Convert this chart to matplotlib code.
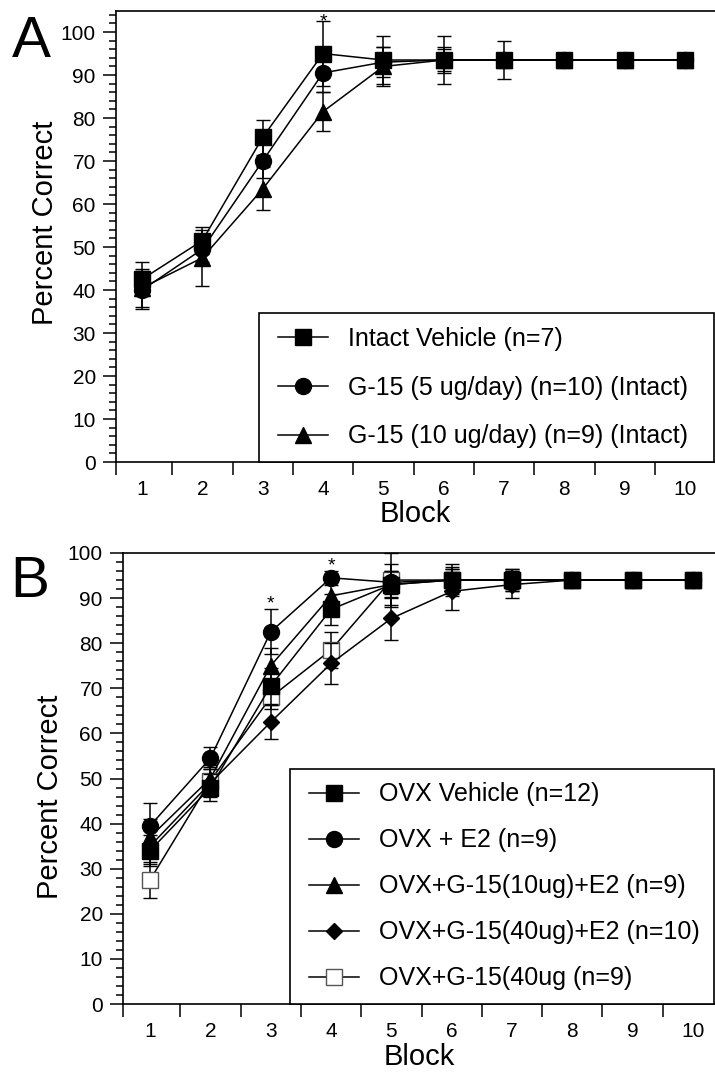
import numpy as np
import matplotlib
matplotlib.use("Agg")
import matplotlib.pyplot as plt
from matplotlib.lines import Line2D
from matplotlib.path import Path
from matplotlib.ticker import MultipleLocator, FixedLocator, NullFormatter, FixedFormatter

plt.rcParams['font.family'] = ['Liberation Sans', 'DejaVu Sans']

# ---------------- data ----------------
blocks = [1, 2, 3, 4, 5, 6, 7, 8, 9, 10]
block_labels = ['1', '2', '3', '4', '5', '6', '7', '8', '9', '10']

# Panel A (intact)
a_labels = ['Intact Vehicle (n=7)', 'G-15 (5 ug/day) (n=10) (Intact)', 'G-15 (10 ug/day) (n=9) (Intact)']
a_vehicle = [42.5, 51.5, 75.5, 95.0, 93.5, 93.5, 93.5, 93.5, 93.5, 93.5]
a_vehicle_err = [4.0, 3.2, 4.0, 7.5, 5.5, 5.5, 4.5, 0, 0, 0]
a_g15_5 = [40.0, 49.5, 70.0, 90.5, 93.0, 93.5, 93.5, 93.5, 93.5, 93.5]
a_g15_5_err = [4.5, 3.0, 4.0, 4.5, 3.5, 2.5, 0, 0, 0, 0]
a_g15_10 = [40.5, 47.5, 63.5, 81.5, 92.0, 93.5, 93.5, 93.5, 93.5, 93.5]
a_g15_10_err = [4.5, 6.5, 5.0, 4.5, 4.5, 3.0, 0, 0, 0, 0]
a_star_blocks = [4]
a_star_y = [104.0]

# Panel B (OVX)
b_labels = ['OVX Vehicle (n=12)', 'OVX + E2 (n=9)', 'OVX+G-15(10ug)+E2 (n=9)',
            'OVX+G-15(40ug)+E2 (n=10)', 'OVX+G-15(40ug (n=9)']
b_vehicle = [34.0, 48.0, 70.5, 87.5, 93.0, 94.0, 94.0, 94.0, 94.0, 94.0]
b_vehicle_err = [3.5, 3.0, 4.0, 3.5, 4.5, 3.0, 2.5, 0, 0, 0]
b_e2 = [39.5, 54.5, 82.5, 94.5, 93.5, 94.0, 94.0, 94.0, 94.0, 94.0]
b_e2_err = [5.0, 2.5, 5.0, 1.5, 2.5, 2.5, 1.5, 0, 0, 0]
b_g10_e2 = [37.0, 50.0, 75.0, 90.5, 93.0, 94.0, 94.0, 94.0, 94.0, 94.0]
b_g10_e2_err = [4.0, 3.0, 4.0, 4.5, 3.0, 2.5, 2.0, 0, 0, 0]
b_g40_e2 = [35.0, 49.0, 62.5, 75.5, 85.5, 91.5, 93.0, 94.0, 94.0, 94.0]
b_g40_e2_err = [4.0, 3.0, 3.8, 4.6, 4.7, 4.2, 3.0, 0, 0, 0]
b_g40 = [27.5, 49.5, 68.0, 78.5, 94.0, 94.0, 94.0, 94.0, 94.0, 94.0]
b_g40_err = [4.0, 3.0, 2.5, 4.0, 6.0, 3.5, 2.5, 0, 0, 0]
b_star_blocks = [3, 4]
b_star_y = [90.2, 98.7]

# ---------------- figure ----------------
W, H = 715, 1077
fig = plt.figure(figsize=(W / 100, H / 100), dpi=100)
fig.patch.set_facecolor('white')


def px_axes(l, t, r, b):
    return fig.add_axes([l / W, 1 - b / H, (r - l) / W, (b - t) / H])


axA = px_axes(116, 11, 715, 462)
axB = px_axes(123, 553, 715, 1004)

LW = 1.1
MS = 11.5
CAP = 5
TICKFS = 15


class HPadBox:
    """Square legend frame with extra horizontal padding (in pixels)."""
    def __init__(self, left, right):
        self.left = left
        self.right = right

    def __call__(self, x0, y0, width, height, mutation_size):
        x1 = x0 - self.left
        x2 = x0 + width + self.right
        y1, y2 = y0, y0 + height
        return Path([(x1, y1), (x2, y1), (x2, y2), (x1, y2), (x1, y1)], closed=True)


def style_axes(ax, xlim, ylim):
    ax.set_xlim(*xlim)
    ax.set_ylim(*ylim)
    ax.spines['right'].set_visible(False)
    for s in ['top', 'left', 'bottom']:
        ax.spines[s].set_linewidth(1.2)
    ax.yaxis.set_major_locator(MultipleLocator(10))
    ax.yaxis.set_minor_locator(MultipleLocator(2))
    ax.tick_params(axis='y', which='major', direction='out', length=9.5, width=1.1,
                   labelsize=TICKFS, pad=5)
    ax.tick_params(axis='y', which='minor', direction='out', length=5, width=1.1)
    ax.tick_params(axis='y', right=False)
    ax.xaxis.set_major_locator(FixedLocator([xlim[0]] + [b + 0.5 for b in blocks[:-1]]))
    ax.xaxis.set_major_formatter(NullFormatter())
    ax.xaxis.set_minor_locator(FixedLocator(blocks))
    ax.xaxis.set_minor_formatter(FixedFormatter(block_labels))
    ax.tick_params(axis='x', which='major', direction='out', length=9.5, width=1.1, top=False)
    ax.tick_params(axis='x', which='minor', length=0, labelsize=TICKFS, pad=13, top=False)


def series(ax, y, err, marker, ms, mfc='black', mec='black', z=3):
    ax.errorbar(blocks, y, yerr=err, fmt='-', color='black', lw=LW,
                marker=marker, ms=ms, mfc=mfc, mec=mec, mew=1.0,
                ecolor='black', elinewidth=1.1, capsize=CAP, capthick=1.1, zorder=z,
                clip_on=False)


def make_legend(ax, handles, labels, anchor_x, labelspacing, padl, padr):
    leg = ax.legend(handles, labels, loc='lower right', bbox_to_anchor=(anchor_x, 0.0),
                    bbox_transform=ax.transAxes, borderaxespad=0, fontsize=18,
                    frameon=True, fancybox=False, edgecolor='black', framealpha=1,
                    handlelength=2.0, handletextpad=0.8, borderpad=0.55,
                    labelspacing=labelspacing)
    fr = leg.get_frame()
    fr.set_linewidth(1.2)
    fr.set_boxstyle(HPadBox(padl, padr))
    return leg


# Panel A
series(axA, a_g15_10, a_g15_10_err, '^', 11, z=3)
series(axA, a_g15_5, a_g15_5_err, 'o', MS, z=4)
series(axA, a_vehicle, a_vehicle_err, 's', MS, z=5)
style_axes(axA, (0.569, 10.497), (0, 104.9))
for bx, by in zip(a_star_blocks, a_star_y):
    axA.text(bx, by - 2.6, '*', ha='center', va='baseline', fontsize=14, clip_on=False)

handlesA = [Line2D([], [], color='black', lw=LW, marker=m, ms=s, mfc='black', mec='black')
            for m, s in [('s', MS), ('o', MS), ('^', 11)]]
make_legend(axA, handlesA, a_labels, (702 - 116) / 599, 0.99, 6, 12)

# Panel B
series(axB, b_g40, b_g40_err, 's', MS, mfc='white', mec='#555555', z=3)
series(axB, b_g40_e2, b_g40_e2_err, 'D', 8, z=4)
series(axB, b_g10_e2, b_g10_e2_err, '^', 11, z=5)
series(axB, b_e2, b_e2_err, 'o', MS, z=6)
series(axB, b_vehicle, b_vehicle_err, 's', MS, z=7)
style_axes(axB, (0.552, 10.365), (0, 100))
for bx, by in zip(b_star_blocks, b_star_y):
    axB.text(bx, by - 2.5, '*', ha='center', va='baseline', fontsize=14, clip_on=False)

specsB = [('s', MS, 'black', 'black'), ('o', MS, 'black', 'black'), ('^', 11, 'black', 'black'),
          ('D', 8, 'black', 'black'), ('s', MS, 'white', '#555555')]
handlesB = [Line2D([], [], color='black', lw=LW, marker=m, ms=s, mfc=fc, mec=ec)
            for m, s, fc, ec in specsB]
make_legend(axB, handlesB, b_labels, 0.998, 0.88, 6, 0)

# labels
fig.text(45 / W, 1 - 223 / H, 'Percent Correct', rotation=90, ha='center', va='center', fontsize=21)
fig.text(50 / W, 1 - 797 / H, 'Percent Correct', rotation=90, ha='center', va='center', fontsize=21)
fig.text(415 / W, 1 - 514 / H, 'Block', ha='center', va='center', fontsize=21)
fig.text(419 / W, 1 - 1057 / H, 'Block', ha='center', va='center', fontsize=21)
fig.text(12 / W, 1 - 57 / H, 'A', ha='left', va='baseline', fontsize=42)
fig.text(10 / W, 1 - 597 / H, 'B', ha='left', va='baseline', fontsize=42)

fig.savefig('out.png', dpi=100, facecolor='white')
